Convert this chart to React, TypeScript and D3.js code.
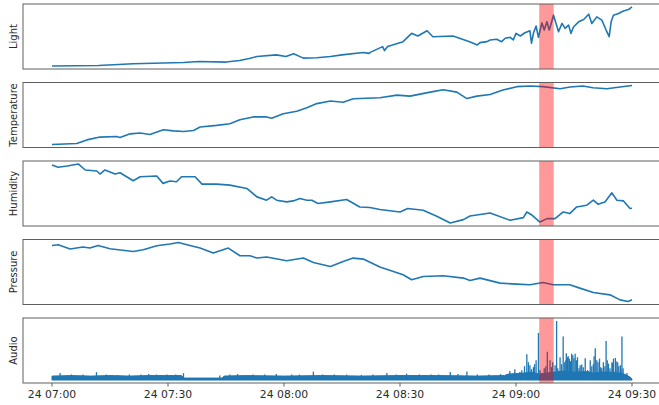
import React from "react";
import * as d3 from "d3";

// minutes after 24 07:00 and sensor readings
const lightT = [0, 12, 21, 34, 38, 45, 48.5, 51, 53, 58, 60.5, 62.5, 65, 68.5, 72, 75, 80.5, 82, 82.3, 85.5, 86, 86.8, 90.8, 93, 94.6, 97, 98.5, 103.7, 108, 110, 110.7, 112.5, 113.3, 115, 116.3, 117.2, 118.5, 119.3, 120, 121.1, 122.3, 123.6, 124, 124.5, 125.2, 125.8, 126.7, 127.3, 128, 128.6, 129.1, 129.7, 130.4, 131, 131.9, 132.7, 133.6, 134.2, 134.9, 136.2, 137.5, 138.8, 139.6, 140.9, 142.2, 143.3, 144.1, 144.6, 145.2, 146.5, 147.8, 149.1, 150];
const lightV = [27, 33, 50, 63, 73, 67, 83, 103, 123, 140, 123, 150, 107, 110, 123, 140, 163, 155, 165, 223, 183, 225, 273, 357, 330, 383, 323, 330, 273, 240, 263, 273, 290, 297, 273, 307, 317, 290, 357, 330, 363, 383, 257, 357, 430, 317, 463, 390, 473, 390, 457, 540, 450, 373, 457, 407, 440, 357, 423, 473, 497, 550, 457, 523, 490, 390, 323, 473, 540, 557, 583, 597, 623];

const tempT = [0, 6.4, 9, 12.4, 16.7, 17.6, 20.2, 22.8, 25.3, 28.8, 31.4, 34, 36.6, 38.3, 42.6, 46, 48.6, 52, 55.5, 56.8, 59.8, 63.3, 65.9, 68.5, 72, 75.3, 77.9, 84.8, 89.2, 92.6, 97.8, 101.2, 104.7, 107.3, 109.9, 113.3, 116.6, 120.2, 123.6, 127, 131.4, 134, 137.3, 139.9, 143.5, 146.9, 150];
const tempV = [21.12, 21.17, 21.35, 21.49, 21.52, 21.47, 21.65, 21.69, 21.62, 21.85, 21.8, 21.77, 21.82, 21.99, 22.07, 22.15, 22.35, 22.49, 22.49, 22.42, 22.65, 22.77, 22.94, 23.15, 23.28, 23.22, 23.39, 23.44, 23.57, 23.52, 23.72, 23.84, 23.72, 23.4, 23.52, 23.6, 23.82, 23.99, 24.02, 23.99, 23.89, 23.97, 24.02, 23.94, 23.89, 23.97, 24.05];

const humT = [0, 1.6, 3.9, 6.8, 8.6, 11.6, 12.4, 13.7, 16.3, 17.6, 21, 22.8, 27.1, 28.7, 30.5, 32.2, 33.5, 37, 38.8, 42.6, 46, 50.4, 53, 55.5, 56.8, 58.1, 60.7, 62.4, 64.1, 65.9, 67.2, 68.8, 72, 76.2, 79.6, 82.2, 84.8, 90, 92, 96, 99.5, 103, 106.4, 108.1, 113.3, 118.5, 121.9, 122.8, 124.2, 126.2, 128, 130.1, 132.2, 133.9, 135.7, 138.3, 140, 141.2, 143, 144.8, 146.1, 147.8, 149.5, 150];
const humV = [42.2, 41.74, 42.0, 42.4, 41.2, 41.0, 40.4, 41.2, 40.4, 40.66, 39.06, 39.86, 40.0, 38.54, 39.0, 38.86, 39.86, 39.86, 38.4, 38.4, 38.2, 37.54, 35.86, 35.2, 35.86, 35.2, 34.86, 35.06, 35.54, 35.2, 35.2, 34.54, 34.86, 35.34, 33.86, 33.74, 33.34, 32.86, 33.54, 33.2, 32.0, 30.66, 31.34, 32.06, 32.66, 31.2, 31.74, 32.86, 32.2, 30.86, 31.54, 31.54, 32.86, 32.54, 33.86, 34.2, 35.2, 34.4, 34.86, 36.66, 35.2, 35.06, 33.54, 33.6];

const presT = [0, 1.6, 4.7, 8, 9.8, 11.9, 15, 21, 23.6, 27.1, 30.5, 32.7, 34.9, 38.3, 41.7, 45.6, 48.6, 51.2, 53, 55.5, 60.7, 65, 67.6, 72, 75.3, 77.9, 80.5, 84.8, 90.8, 93, 96, 101.2, 106.4, 108.1, 110.7, 115.9, 120.2, 123.6, 127, 129.6, 133.9, 136.5, 140, 144.3, 146.9, 149, 150];
const presV = [1005.83, 1005.9, 1005.47, 1005.67, 1005.57, 1005.83, 1005.5, 1005.23, 1005.4, 1005.8, 1005.97, 1006.13, 1005.9, 1005.57, 1005.07, 1005.57, 1004.8, 1004.8, 1004.57, 1004.67, 1004.3, 1004.57, 1004.13, 1003.73, 1004.23, 1004.57, 1004.47, 1003.67, 1002.9, 1002.4, 1002.73, 1002.8, 1002.57, 1002.33, 1002.57, 1002.07, 1001.97, 1001.9, 1002.13, 1001.9, 1001.9, 1001.57, 1001.13, 1000.9, 1000.4, 1000.23, 1000.4];

// audio: noise floor level and individual peaks
const audioFloorT = [0, 5, 10, 15, 20, 25, 30, 33.5, 34, 44, 44.5, 50, 60, 70, 80, 90, 100, 110, 117, 118, 120, 122, 124, 126, 128, 130, 132, 135, 138, 140, 142, 145, 147, 148, 149.5, 150];
const audioFloorV = [4, 4.5, 4, 4.5, 4, 4.5, 4.5, 4.5, 2, 2, 4, 4.5, 4, 4.5, 4, 4.5, 4.5, 4, 4.5, 6, 6.5, 7, 8, 6, 7, 8, 9, 8, 8.5, 7, 8, 8, 7, 6, 3, 1];
const peakT = [2.1, 5, 8, 11.5, 14, 17, 20, 23, 25, 27, 29.7, 32, 34, 43.4, 46, 48, 52, 55, 58, 62, 64, 67.6, 70, 73, 76.2, 80, 83, 86.6, 89, 91.7, 95, 98, 100, 103, 105, 107.3, 110, 113, 116, 118.4, 119.7, 121, 121.5, 122.2, 122.8, 123.2, 123.6, 124, 124.5, 124.8, 125.2, 125.8, 126.2, 126.7, 127.3, 127.7, 128.1, 128.8, 129.2, 129.5, 130.1, 130.5, 130.8, 131.4, 131.8, 132.2, 132.6, 132.9, 133, 133.3, 133.5, 133.8, 134.1, 134.4, 134.7, 135, 135.3, 135.6, 135.9, 136.3, 136.6, 137, 137.4, 137.9, 138.5, 138.8, 139.2, 139.6, 140, 140.2, 140.5, 140.9, 141.2, 141.6, 141.9, 142.2, 142.6, 143, 143.3, 143.6, 143.9, 144.3, 144.8, 145, 145.2, 145.7, 145.9, 146.3, 146.6, 147, 147.2, 147.4, 147.7, 148.3, 148.7];
const peakV = [7, 5.5, 5.5, 8, 5.5, 5, 5.5, 5.5, 6, 5.5, 5.5, 5.5, 7, 4.5, 5.5, 6, 5.5, 5.5, 6, 5.5, 5.5, 8.5, 5.5, 5.5, 5.5, 5, 5.5, 7, 5.5, 6.5, 5.5, 5.5, 5.5, 8, 6, 8.5, 5.5, 5.5, 6, 9, 11, 8, 10, 14, 26, 18, 15, 11, 13, 16, 20, 47.5, 10, 7, 12, 14, 28.5, 20, 13, 18, 15, 59.6, 12, 23, 16, 44, 18, 20, 27, 23, 24, 21.6, 19, 26.6, 25, 22, 26.6, 20, 23, 12, 15, 15.6, 13, 22, 10, 9, 20, 14, 16, 24, 32, 20, 18, 21.6, 13, 12, 18, 14, 39.5, 20, 16.6, 12, 18, 17, 21.6, 22.3, 19, 18, 14, 15, 10, 44, 12, 5, 7];

const panelLabels = ["Light", "Temperature", "Humidity", "Pressure", "Audio"];
const tickMinutes = [0, 30, 60, 90, 120, 150];
const spanMinutes = [126, 129.75];

const BASE = new Date(2019, 5, 24, 7, 0, 0).getTime();
const toDate = (m: number) => new Date(BASE + m * 60000);

const W = 659;
const H = 405;
const LEFT = 23;
const RIGHT = 661;
const TOP0 = 4;
const STEP = 78.5;
const PH = 65;
const BLUE = "#1f77b4";
const FRAME = "#5e5e5e";
const TEXT = "#2a2a2a";

function padDomain(vals: number[]): [number, number] {
  const [a, b] = d3.extent(vals) as [number, number];
  const p = (b - a) * 0.05;
  return [a - p, b + p];
}

export default function App() {
  const x = d3
    .scaleTime()
    .domain([toDate(-7.5), toDate(157.5)])
    .range([LEFT, RIGHT]);
  const fmt = d3.timeFormat("%d %H:%M");

  const lineSeries = [
    { t: lightT, v: lightV },
    { t: tempT, v: tempV },
    { t: humT, v: humV },
    { t: presT, v: presV },
  ];

  const panels = panelLabels.map((label, i) => {
    const top = TOP0 + i * STEP;
    const bottom = top + PH;
    let content: React.ReactNode = null;
    if (i < 4) {
      const s = lineSeries[i];
      const y = d3.scaleLinear().domain(padDomain(s.v)).range([bottom, top]);
      const pts = s.t.map((t, k) => [t, s.v[k]] as [number, number]);
      const line = d3
        .line<[number, number]>()
        .x((d) => x(toDate(d[0])))
        .y((d) => y(d[1]));
      content = (
        <path d={line(pts) || ""} fill="none" stroke={BLUE} strokeWidth={1.6} strokeLinejoin="round" />
      );
    } else {
      const y = d3
        .scaleLinear()
        .domain(padDomain([0, ...peakV]))
        .range([bottom, top]);
      const floorPts = audioFloorT.map((t, k) => [t, audioFloorV[k]] as [number, number]);
      const area = d3
        .area<[number, number]>()
        .x((d) => x(toDate(d[0])))
        .y0(() => y(0))
        .y1((d) => y(d[1]));
      content = (
        <g>
          <path d={area(floorPts) || ""} fill={BLUE} stroke={BLUE} strokeWidth={1} />
          {peakT.map((t, k) => (
            <line
              key={k}
              x1={x(toDate(t))}
              x2={x(toDate(t))}
              y1={y(0)}
              y2={y(peakV[k])}
              stroke={BLUE}
              strokeWidth={1.3}
            />
          ))}
        </g>
      );
    }
    const sx0 = x(toDate(spanMinutes[0]));
    const sx1 = x(toDate(spanMinutes[1]));
    return (
      <g key={label}>
        {content}
        <rect x={sx0} y={top} width={sx1 - sx0} height={PH} fill="red" fillOpacity={0.4} />
        <rect x={LEFT} y={top} width={RIGHT - LEFT} height={PH} fill="none" stroke={FRAME} strokeWidth={1} />
        <text
          transform={`translate(16.5,${top + PH / 2}) rotate(-90)`}
          textAnchor="middle"
          fontFamily="DejaVu Sans"
          fontSize={10}
          fill={TEXT}
        >
          {label}
        </text>
      </g>
    );
  });

  const axisY = TOP0 + 4 * STEP + PH;

  return (
    <svg
      width={W}
      height={H}
      style={{ position: "absolute", left: 0, top: 0, background: "#fff" }}
    >
      {panels}
      <g>
        {tickMinutes.map((m) => {
          const px = x(toDate(m));
          return (
            <g key={m}>
              <line x1={px} x2={px} y1={axisY} y2={axisY + 3.5} stroke={FRAME} strokeWidth={1} />
              <text
                x={px}
                y={axisY + 15}
                textAnchor="middle"
                fontFamily="DejaVu Sans"
                fontSize={10.8}
                fill={TEXT}
              >
                {fmt(toDate(m))}
              </text>
            </g>
          );
        })}
      </g>
    </svg>
  );
}
